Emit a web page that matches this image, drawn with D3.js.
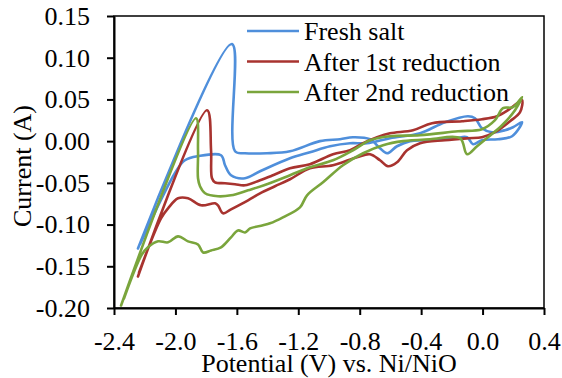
<!DOCTYPE html>
<html><head><meta charset="utf-8">
<script src="https://cdn.jsdelivr.net/npm/d3@7"></script>
<style>
body{margin:0;background:#fff}
svg{display:block}
text{font-family:"Liberation Serif","Times New Roman",serif;fill:#000}
</style>
</head><body>
<svg id="c" width="562" height="378"></svg>
<script>
// ---- data ----
const seriesNames = ["Fresh salt", "After 1st reduction", "After 2nd reduction"];
const seriesColors = ["#4f8fdb", "#a8332f", "#7aa53c"];

const freshV = [-2.244,-1.632,-1.612,-1.547,-1.404,-1.254,-1.059,-0.928,-0.844,-0.733,-0.668,-0.622,-0.557,-0.472,-0.375,-0.180,-0.101,-0.062,-0.004,0.100,0.192,0.257,
  0.198,0.146,0.061,-0.004,-0.049,-0.095,-0.245,-0.407,-0.603,-0.753,-0.863,-0.993,-1.124,-1.254,-1.449,-1.547,-1.638,-1.677,-1.703,-1.853,-1.938,-1.996,-2.231];
const freshI = [-0.1286,0.1163,-0.0121,-0.0145,-0.0145,-0.0121,0.0000,0.0023,0.0047,0.0023,-0.0085,-0.0145,-0.0061,0.0000,0.0011,0.0035,0.0047,-0.0037,0.0011,0.0023,0.0059,0.0227,
  0.0167,0.0131,0.0107,0.0155,0.0275,0.0299,0.0227,0.0095,0.0035,-0.0025,-0.0025,-0.0061,-0.0133,-0.0205,-0.0361,-0.0445,-0.0409,-0.0289,-0.0169,-0.0181,-0.0229,-0.0361,-0.1238];

const red1V = [-2.244,-1.794,-1.768,-1.762,-1.742,-1.677,-1.612,-1.547,-1.449,-1.365,-1.254,-1.124,-0.974,-0.863,-0.778,-0.687,-0.603,-0.453,-0.329,-0.134,-0.004,0.094,0.166,0.218,0.257,
  0.244,0.179,0.081,-0.004,-0.095,-0.245,-0.407,-0.492,-0.557,-0.616,-0.668,-0.733,-0.818,-0.974,-1.124,-1.254,-1.352,-1.449,-1.527,-1.638,-1.690,-1.723,-1.742,-1.833,-1.918,-1.983,-2.048,-2.094,-2.237];
const red1I = [-0.1622,0.0371,-0.0109,-0.0445,-0.0493,-0.0505,-0.0517,-0.0529,-0.0469,-0.0409,-0.0325,-0.0277,-0.0157,-0.0109,-0.0025,0.0047,0.0095,0.0131,0.0215,0.0239,0.0263,0.0299,0.0371,0.0443,0.0491,
  0.0347,0.0239,0.0107,0.0047,0.0035,0.0011,-0.0025,-0.0109,-0.0253,-0.0301,-0.0229,-0.0157,-0.0193,-0.0289,-0.0325,-0.0457,-0.0541,-0.0625,-0.0709,-0.0817,-0.0865,-0.0769,-0.0745,-0.0769,-0.0685,-0.0685,-0.0805,-0.0925,-0.1574];

const red2V = [-2.354,-1.866,-1.853,-1.853,-1.840,-1.807,-1.723,-1.638,-1.527,-1.423,-1.254,-1.124,-0.974,-0.844,-0.733,-0.603,-0.407,-0.160,-0.004,0.081,0.133,0.198,0.257,
  0.211,0.127,0.035,-0.036,-0.101,-0.147,-0.342,-0.518,-0.648,-0.778,-0.909,-1.039,-1.143,-1.189,-1.300,-1.384,-1.430,-1.514,-1.547,-1.593,-1.638,-1.703,-1.768,-1.820,-1.853,-1.918,-1.983,-2.048,-2.113,-2.179,-2.218,-2.335];
const red2I = [-0.1970,0.0275,-0.0109,-0.0445,-0.0541,-0.0625,-0.0661,-0.0649,-0.0589,-0.0529,-0.0409,-0.0313,-0.0229,-0.0109,0.0011,0.0059,0.0071,0.0119,0.0143,0.0251,0.0395,0.0407,0.0527,
  0.0371,0.0191,0.0047,-0.0061,-0.0157,0.0035,0.0023,0.0000,-0.0049,-0.0145,-0.0289,-0.0493,-0.0649,-0.0793,-0.0913,-0.0985,-0.1009,-0.1046,-0.1094,-0.1070,-0.1153,-0.1273,-0.1310,-0.1334,-0.1238,-0.1201,-0.1141,-0.1213,-0.1201,-0.1273,-0.1358,-0.1886];

const xTicks = [-2.4, -2.0, -1.6, -1.2, -0.8, -0.4, 0.0, 0.4];
const xTickLabels = ["-2.4", "-2.0", "-1.6", "-1.2", "-0.8", "-0.4", "0.0", "0.4"];
const yTicks = [-0.20, -0.15, -0.10, -0.05, 0.00, 0.05, 0.10, 0.15];
const yTickLabels = ["-0.20", "-0.15", "-0.10", "-0.05", "0.00", "0.05", "0.10", "0.15"];
const xTitle = "Potential (V) vs. Ni/NiO";
const yTitle = "Current (A)";

// ---- drawing ----
const FS = 26;
const L = 114, R = 544, T = 16, B = 308;
const svg = d3.select("#c");
const x = d3.scaleLinear().domain([-2.4, 0.4]).range([L, R]);
const y = d3.scaleLinear().domain([-0.20, 0.15]).range([B, T]);

svg.append("rect").attr("x", L).attr("y", T).attr("width", R - L).attr("height", B - T)
  .attr("fill", "none").attr("stroke", "#000").attr("stroke-width", 1.5);

const series = [
  {name: seriesNames[0], color: seriesColors[0], V: freshV, I: freshI},
  {name: seriesNames[1], color: seriesColors[1], V: red1V, I: red1I},
  {name: seriesNames[2], color: seriesColors[2], V: red2V, I: red2I}
];

const line = d3.line().x(d => x(d[0])).y(d => y(d[1])).curve(d3.curveCatmullRom.alpha(0.5));
series.forEach(s => {
  const pts = s.V.map((v, i) => [v, s.I[i]]);
  svg.append("path").attr("d", line(pts)).attr("fill", "none")
    .attr("stroke", s.color).attr("stroke-width", 2.6)
    .attr("stroke-linejoin", "round").attr("stroke-linecap", "round");
});

const gx = svg.append("g").attr("transform", `translate(0,${B})`)
  .call(d3.axisBottom(x).tickValues(xTicks).tickFormat((d, i) => xTickLabels[i]).tickSize(7).tickSizeOuter(0).tickPadding(17));
const gy = svg.append("g").attr("transform", `translate(${L},0)`)
  .call(d3.axisLeft(y).tickValues(yTicks).tickFormat((d, i) => yTickLabels[i]).tickSize(7).tickSizeOuter(0).tickPadding(17));
[gx, gy].forEach(g => {
  g.attr("font-family", null).attr("font-size", null);
  g.select(".domain").attr("stroke", "#000").attr("stroke-width", 2);
  g.selectAll(".tick line").attr("stroke", "#000").attr("stroke-width", 2);
  g.selectAll(".tick text").style("font-size", FS + "px").attr("fill", "#000");
});

svg.append("text").attr("x", 329).attr("y", 372).attr("text-anchor", "middle")
  .style("font-size", FS + "px").text(xTitle);
svg.append("text").attr("transform", "translate(31,166) rotate(-90)").attr("text-anchor", "middle")
  .style("font-size", FS + "px").text(yTitle);

const leg = svg.append("g");
series.forEach((s, i) => {
  const ly = 31 + i * 30.5;
  leg.append("line").attr("x1", 247).attr("x2", 299).attr("y1", ly).attr("y2", ly)
    .attr("stroke", s.color).attr("stroke-width", 2.6);
  leg.append("text").attr("x", 304).attr("y", ly + 9).style("font-size", FS + "px").text(s.name);
});
</script>
</body></html>
